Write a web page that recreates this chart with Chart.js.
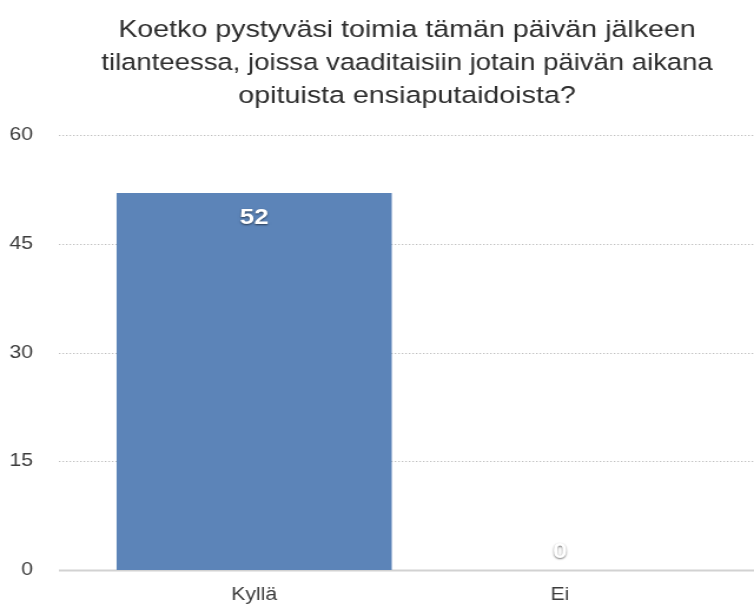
<!DOCTYPE html>
<html>
<head>
<meta charset="utf-8">
<script src="https://cdn.jsdelivr.net/npm/chart.js@4/dist/chart.umd.min.js"></script>
<style>
  html, body { margin: 0; padding: 0; background: #fff; overflow: hidden; }
  #wrap { width: 640px; height: 607px; transform: scaleX(1.178125); transform-origin: 0 0; }
  canvas { display: block; }
</style>
</head>
<body>
<div id="wrap"><canvas id="chart" width="640" height="607"></canvas></div>
<script>
// Survey question and answers
const titleLines = [
  'Koetko pystyväsi toimia tämän päivän jälkeen',
  'tilanteessa, joissa vaaditaisiin jotain päivän aikana',
  'opituista ensiaputaidoista?'
];
const categories = ['Kyllä', 'Ei'];
const answerCounts = [52, 0];
const yTicks = [0, 15, 30, 45, 60];

const FONT = '"Liberation Sans", Arial, Helvetica, sans-serif';

// Dotted horizontal guides that run a little past the plot on the left,
// plus a solid baseline at zero.
const guideLines = {
  id: 'guideLines',
  beforeDatasetsDraw(chart) {
    const { ctx, chartArea, scales: { y } } = chart;
    const x0 = chartArea.left - 36;
    const x1 = chart.width;
    ctx.save();
    yTicks.forEach(v => {
      const py = Math.round(y.getPixelForValue(v)) + 0.5;
      ctx.beginPath();
      if (v === 0) {
        ctx.setLineDash([]);
        ctx.lineWidth = 2;
        ctx.strokeStyle = '#d2d2d2';
      } else {
        ctx.setLineDash([1.3, 1.7]);
        ctx.lineWidth = 1;
        ctx.strokeStyle = '#bfbfbf';
      }
      ctx.moveTo(x0, py);
      ctx.lineTo(x1, py);
      ctx.stroke();
    });
    ctx.restore();
  }
};

// Count labels: inside the top of tall bars, above empty ones.
const countLabels = {
  id: 'countLabels',
  afterDatasetsDraw(chart) {
    const { ctx } = chart;
    const meta = chart.getDatasetMeta(0);
    ctx.save();
    ctx.font = 'bold 22px ' + FONT;
    ctx.textAlign = 'center';
    ctx.textBaseline = 'middle';
    ctx.fillStyle = '#ffffff';
    ctx.shadowColor = 'rgba(0,0,0,0.55)';
    ctx.shadowBlur = 2;
    ctx.shadowOffsetY = 1;
    meta.data.forEach((bar, i) => {
      const v = answerCounts[i];
      const ty = v > 0 ? bar.y + 24.5 : bar.y - 18;
      ctx.fillText(String(v), bar.x, ty);
    });
    ctx.restore();
  }
};

new Chart(document.getElementById('chart'), {
  type: 'bar',
  data: {
    labels: categories,
    datasets: [{
      data: answerCounts,
      backgroundColor: '#5c84b8',
      borderWidth: 0,
      categoryPercentage: 0.9,
      barPercentage: 1.0
    }]
  },
  options: {
    responsive: false,
    animation: false,
    devicePixelRatio: 1,
    layout: { padding: { left: 0, right: 35, top: 0, bottom: 0 } },
    plugins: {
      legend: { display: false },
      tooltip: { enabled: false },
      title: {
        display: true,
        text: titleLines,
        fullSize: false,
        color: '#2e2e2e',
        font: { family: FONT, size: 24.3, weight: 'normal', lineHeight: 1.36 },
        padding: { top: 14, bottom: 22 }
      }
    },
    scales: {
      x: {
        afterFit(scale) { scale.height = 37; },
        grid: { display: false, drawTicks: false },
        border: { display: false },
        ticks: {
          color: '#3c3c3c',
          font: { family: FONT, size: 18 },
          padding: 14.2
        }
      },
      y: {
        min: 0,
        max: 60,
        afterBuildTicks(scale) {
          scale.ticks = yTicks.map(v => ({ value: v }));
        },
        afterFit(scale) {
          // fixed axis column; only half a label of overhang above and below
          scale.width = 86;
          scale.paddingTop = 11;
          scale.paddingBottom = 11;
        },
        grid: { display: false, drawTicks: false },
        border: { display: false },
        ticks: {
          color: '#3c3c3c',
          font: { family: FONT, size: 18 },
          padding: 58
        }
      }
    }
  },
  plugins: [guideLines, countLabels]
});
</script>
</body>
</html>
